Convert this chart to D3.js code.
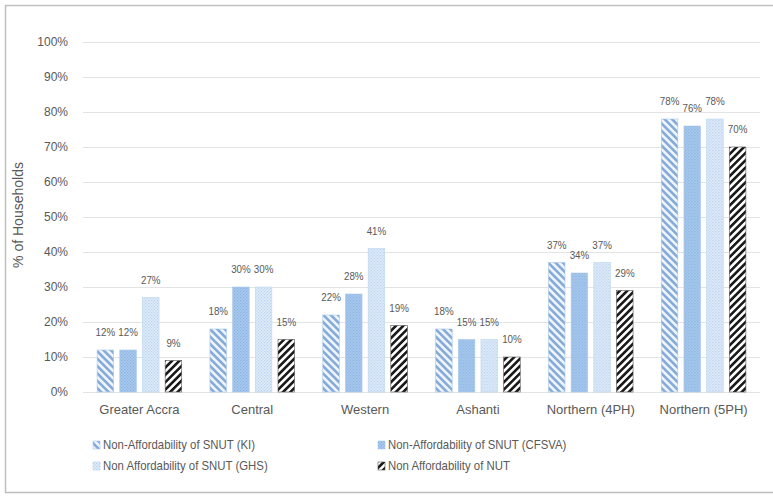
<!DOCTYPE html>
<html><head><meta charset="utf-8">
<script src="https://cdn.jsdelivr.net/npm/d3@7"></script>
<style>
html,body{margin:0;padding:0;background:#fff;}
svg{display:block;}
text{font-family:"Liberation Sans Narrow","Arial Narrow","Liberation Sans",Arial,sans-serif;fill:#595959;}
</style></head>
<body>
<svg id="chart" width="773" height="496"></svg>
<script>
const categories = ["Greater Accra","Central","Western","Ashanti","Northern (4PH)","Northern (5PH)"];
const seriesNames = ["Non-Affordability of SNUT (KI)","Non-Affordability of SNUT (CFSVA)","Non Affordability of SNUT (GHS)","Non Affordability of NUT"];
const kiValues    = [12,18,22,18,37,78];
const cfsvaValues = [12,30,28,15,34,76];
const ghsValues   = [27,30,41,15,37,78];
const nutValues   = [9,15,19,10,29,70];
const yTicks = [0,10,20,30,40,50,60,70,80,90,100];
const yTitle = "% of Households";

const seriesValues = [kiValues, cfsvaValues, ghsValues, nutValues];
const svg = d3.select("#chart");

// patterns
const defs = svg.append("defs");
function stripes(id, bg, fg, angle, w, gap){
  const p = defs.append("pattern").attr("id", id).attr("patternUnits","userSpaceOnUse")
    .attr("width", w+gap).attr("height", w+gap).attr("patternTransform", `rotate(${angle})`);
  p.append("rect").attr("width", w+gap).attr("height", w+gap).attr("fill", bg);
  p.append("rect").attr("width", w).attr("height", w+gap).attr("fill", fg);
}
function dots(id, bg, fg){
  const p = defs.append("pattern").attr("id", id).attr("patternUnits","userSpaceOnUse")
    .attr("width", 3).attr("height", 3);
  p.append("rect").attr("width", 3).attr("height", 3).attr("fill", bg);
  p.append("rect").attr("x",0).attr("y",0).attr("width", 1.2).attr("height", 1.2).attr("fill", fg);
  p.append("rect").attr("x",1.5).attr("y",1.5).attr("width", 1.2).attr("height", 1.2).attr("fill", fg);
}
stripes("pKI", "#eef4fb", "#86abd9", -45, 2.6, 2.6);
dots("pCF", "#aacbee", "#86aee0");
dots("pGHS", "#e3eefa", "#b3cdec");
stripes("pNUT", "#ffffff", "#1a1a1a", 45, 2.6, 2.6);
const fills = ["url(#pKI)","url(#pCF)","url(#pGHS)","url(#pNUT)"];
const strokes = ["#a9c8ea","#a9c8ea","#bcd5ef","#555"];

// border
svg.append("rect").attr("x",5.5).attr("y",5.5).attr("width",780).attr("height",487)
  .attr("fill","none").attr("stroke","#bfbfbf").attr("stroke-width",1.5);

const pLeft = 83, pRight = 760, pTop = 42, pBottom = 392;
const x0 = d3.scaleBand().domain(categories).range([pLeft,pRight]).paddingInner(0.25).paddingOuter(0.125);
const x1 = d3.scaleBand().domain(d3.range(4)).range([0, x0.bandwidth()]).paddingInner(0.27).paddingOuter(0);
const y = d3.scaleLinear().domain([0,100]).range([pBottom, pTop]);

// grid
svg.append("g").selectAll("line").data(yTicks).join("line")
  .attr("x1",pLeft).attr("x2",pRight)
  .attr("y1",d=>Math.round(y(d))+0.5).attr("y2",d=>Math.round(y(d))+0.5)
  .attr("stroke","#e3e3e3").attr("stroke-width",1);

// y axis labels
const yAxis = d3.axisLeft(y).tickValues(yTicks).tickFormat(d=>d+"%").tickSize(0).tickPadding(0);
const ga = svg.append("g").attr("transform",`translate(68,0)`).call(yAxis);
ga.select(".domain").remove();
ga.attr("font-family",null);
ga.selectAll("text").attr("font-size",12).attr("fill","#6a6a6a");

// y title
svg.append("text").attr("transform",`translate(23,${(pTop+pBottom)/2 - 2}) rotate(-90)`)
  .attr("text-anchor","middle").attr("font-size",14).text(yTitle);

// x labels
const xAxis = d3.axisBottom(x0).tickSize(0).tickPadding(0);
const gx = svg.append("g").attr("transform",`translate(0,${pBottom+10})`).call(xAxis);
gx.select(".domain").remove();
gx.attr("font-family",null);
gx.selectAll("text").attr("font-size",13).attr("fill","#595959").attr("dy","0.9em");

// bars
const groups = svg.append("g").selectAll("g").data(categories).join("g")
  .attr("transform", c=>`translate(${x0(c)},0)`);
groups.selectAll("rect").data((c,ci)=>seriesValues.map((s,si)=>({si, v:s[ci]}))).join("rect")
  .attr("x", d=>x1(d.si)).attr("width", x1.bandwidth())
  .attr("y", d=>y(d.v)).attr("height", d=>pBottom - y(d.v))
  .attr("fill", d=>fills[d.si]).attr("stroke", d=>strokes[d.si]).attr("stroke-width",0.6);
groups.selectAll("text.v").data((c,ci)=>seriesValues.map((s,si)=>({si, v:s[ci]}))).join("text")
  .attr("class","v")
  .attr("transform", d=>`translate(${x1(d.si)+x1.bandwidth()/2},${y(d.v)-14}) scale(0.85,1)`)
  .attr("text-anchor","middle").attr("font-size",11.5).text(d=>d.v+"%");

// legend
const legPos = [[93,445],[378,445],[93,466],[378,466]];
const leg = svg.append("g").selectAll("g").data(seriesNames).join("g")
  .attr("transform",(d,i)=>`translate(${legPos[i][0]},${legPos[i][1]})`);
leg.append("rect").attr("x",0).attr("y",-4).attr("width",7).attr("height",8)
  .attr("fill",(d,i)=>fills[i]).attr("stroke",(d,i)=>strokes[i]).attr("stroke-width",0.6);
leg.append("text").attr("transform","translate(10,0) scale(0.95,1)").attr("dy","0.35em").attr("font-size",12).text(d=>d);
</script>
</body></html>
